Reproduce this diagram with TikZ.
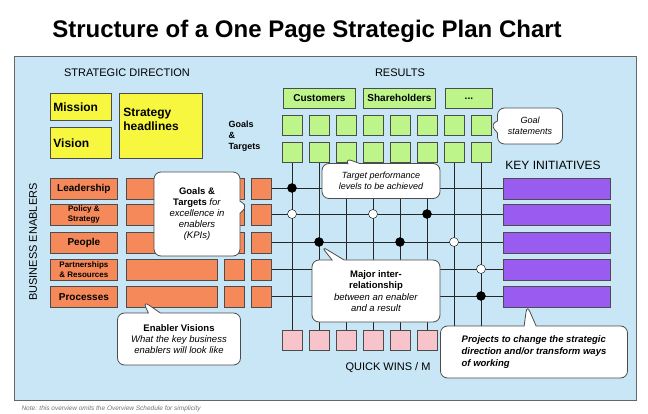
\documentclass[tikz,border=0pt]{standalone}
\usepackage{fontspec}
\setmainfont{Liberation Sans}
\usetikzlibrary{shapes.callouts}
\definecolor{panel}{HTML}{C8E6F5}
\definecolor{yel}{HTML}{F7F740}
\definecolor{grn}{HTML}{BDF58A}
\definecolor{org}{HTML}{F5895A}
\definecolor{pur}{HTML}{9A5CF0}
\definecolor{pnk}{HTML}{F7C4CC}
\newcommand\smallorg{\fontsize{8}{8.5}\selectfont}
\begin{document}
\begin{tikzpicture}[x=1pt,y=-1pt,
 bx/.style={draw=black!70,line width=0.8pt,anchor=north west,inner sep=0pt,align=center},
 ybox/.style={bx,fill=yel,font=\fontsize{12}{14}\selectfont\bfseries},
 gbox/.style={bx,fill=grn,minimum width=20pt,minimum height=20pt},
 ghead/.style={bx,fill=grn,minimum height=20pt,font=\fontsize{10}{10}\selectfont\bfseries},
 obox/.style={bx,fill=org,minimum height=21pt,font=\fontsize{10}{10}\selectfont\bfseries},
 pbox/.style={bx,fill=pur,minimum width=107pt,minimum height=21pt},
 qbox/.style={bx,fill=pnk,minimum width=20pt,minimum height=20pt},
 hd/.style={font=\fontsize{11}{12}\selectfont},
 call/.style={rectangle callout,draw=black!70,fill=white,rounded corners=7pt,line width=0.8pt,align=center,inner sep=3pt,callout pointer width=12pt},
 bd/.style={circle,fill=black,draw=black,inner sep=0pt,minimum size=9pt},
 wd/.style={circle,fill=white,draw=black,inner sep=0pt,minimum size=9pt},
 ln/.style={line width=0.8pt,black!85}]
\useasboundingbox (0,0) rectangle (648,414);
\fill[white] (0,0) rectangle (648,414);
\node[font=\fontsize{24}{26}\selectfont\bfseries] (title) at (307,31) {Structure of a One Page Strategic Plan Chart};
\draw[fill=panel,draw=black!60,line width=1pt] (14,57) rectangle (636,400);
\node[font=\fontsize{6.5}{7}\selectfont\itshape,text=black!55,anchor=west] (note) at (18,409) {Note: this overview omits the Overview Schedule for simplicity};
\node[hd] (sd) at (127,73) {STRATEGIC DIRECTION};
\node[hd] (res) at (400,73) {RESULTS};
\node[font=\fontsize{12}{12}\selectfont] (ki) at (553,165) {KEY INITIATIVES};
\node[hd,rotate=90] (be) at (33,242) {BUSINESS ENABLERS};
\node[ybox,minimum width=61pt,minimum height=27pt,text width=55pt,align=left] (mis) at (50,93) {Mission};
\node[ybox,minimum width=61pt,minimum height=31pt,text width=55pt,align=left] (vis) at (50,127) {Vision};
\node[ybox,minimum width=83pt,minimum height=65pt,text width=75pt,align=left,text depth=28pt] (sh) at (119,93) {Strategy\\headlines};
\node[font=\fontsize{9}{11}\selectfont\bfseries,align=left,anchor=north west] (gt) at (225,117) {Goals\\\&\\Targets};
\node[ghead,minimum width=72pt] (cus) at (283,88) {Customers};
\node[ghead,minimum width=72pt] (sha) at (363,88) {Shareholders};
\node[ghead,minimum width=47pt] (dots) at (445,88) {...};
\foreach \i in {0,...,7}{
  \pgfmathsetmacro\cx{292+27*\i}
  \draw[ln] (\cx,152) -- (\cx,340);
}
\foreach \y in {188,214,242,269,296}{\draw[ln] (262,\y) -- (520,\y);}
\foreach \i in {0,...,7}{
  \pgfmathsetmacro\cx{282+27*\i}
  \node[gbox] (ga\i) at (\cx,115) {};
  \node[gbox] (gb\i) at (\cx,142) {};
  \node[qbox] (q\i) at (\cx,330) {};
}
\foreach \y/\t [count=\k] in {178/Leadership,204/{\smallorg Policy \&\\\smallorg Strategy},232/People,259/{\smallorg Partnerships\\\smallorg \& Resources},286/Processes}{
  \node[obox,minimum width=67pt] (ol\k) at (50,\y) {\t};
  \node[obox,minimum width=91pt] (ow\k) at (126,\y) {};
  \node[obox,minimum width=20pt] (os\k) at (224,\y) {};
  \node[obox,minimum width=20pt] (ot\k) at (251,\y) {};
  \node[pbox] (pu\k) at (503,\y) {};
}
\node[bd] (d1) at (292,188) {};
\node[wd] (d2) at (292,214) {};
\node[wd] (d3) at (373,214) {};
\node[bd] (d4) at (427,214) {};
\node[bd] (d5) at (319,242) {};
\node[bd] (d6) at (400,242) {};
\node[wd] (d7) at (454,242) {};
\node[wd] (d8) at (481,269) {};
\node[bd] (d9) at (481,296) {};
\node[hd,anchor=west] (qw) at (342,368) {QUICK WINS / M};
\node[call,minimum width=86pt,minimum height=84pt,callout absolute pointer={(248,206)},font=\fontsize{9.5}{11}\selectfont] (c1) at (197,214) {\textbf{Goals \&}\\\textbf{Targets} \textit{for}\\\textit{excellence in}\\\textit{enablers}\\\textit{(KPIs)}};
\node[call,minimum width=118pt,minimum height=35pt,callout absolute pointer={(345,158)},font=\fontsize{9}{11}\selectfont\itshape] (c2) at (381,181) {Target performance\\levels to be achieved};
\node[call,minimum width=65pt,minimum height=36pt,callout absolute pointer={(490,124)},font=\fontsize{9}{11}\selectfont\itshape] (c3) at (530,126) {Goal\\statements};
\node[call,minimum width=128pt,minimum height=62pt,callout absolute pointer={(321,246)},font=\fontsize{9.5}{11.5}\selectfont] (c4) at (376,291) {\textbf{Major inter-}\\\textbf{relationship}\\\textit{between an enabler}\\\textit{and a result}};
\node[call,minimum width=123pt,minimum height=52pt,callout absolute pointer={(143,301)},font=\fontsize{9.5}{11}\selectfont] (c5) at (179,339) {\textbf{Enabler Visions}\\\textit{What the key business}\\\textit{enablers will look like}};
\node[call,minimum width=187pt,minimum height=52pt,callout absolute pointer={(527,305)},font=\fontsize{9.5}{12}\selectfont\bfseries\itshape,align=left] (c6) at (534,352) {Projects to change the strategic\\direction and/or transform ways\\of working};
\end{tikzpicture}
\end{document}
